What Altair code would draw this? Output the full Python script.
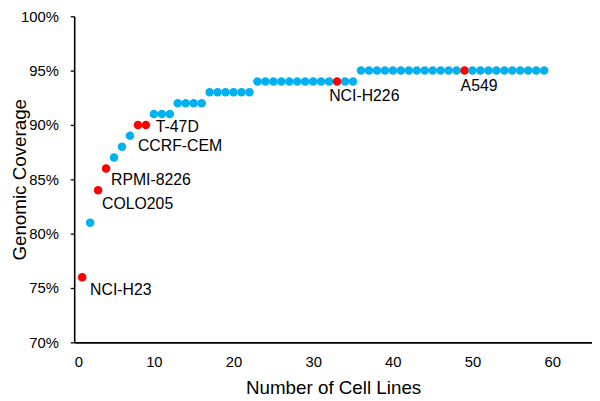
import altair as alt
import pandas as pd

# ---- data ----
cell_index = list(range(1, 60))
coverage = [76, 81, 84, 86, 87, 88, 89, 90, 90,
            91, 91, 91,
            92, 92, 92, 92,
            93, 93, 93, 93, 93, 93,
            94, 94, 94, 94, 94, 94, 94, 94, 94, 94, 94, 94, 94,
            95, 95, 95, 95, 95, 95, 95, 95, 95, 95, 95, 95,
            95, 95, 95, 95, 95, 95, 95, 95, 95, 95, 95, 95]

label_names = ["NCI-H23", "COLO205", "RPMI-8226", "CCRF-CEM", "T-47D", "NCI-H226", "A549"]
label_index = [1, 3, 4, 8, 9, 33, 49]

x_ticks = [0, 10, 20, 30, 40, 50, 60]
y_ticks = [70, 75, 80, 85, 90, 95, 100]

# label offsets (style)
label_offsets = {
    "NCI-H23": (8, 13),
    "COLO205": (4, 14),
    "RPMI-8226": (5, 12),
    "CCRF-CEM": (0, 21),
    "T-47D": (10, 2),
    "NCI-H226": (-8, 15),
    "A549": (-4, 16),
}

FONT = "Liberation Sans"

df = pd.DataFrame({"n": cell_index, "cov": coverage})
df["group"] = ["named" if i in label_index else "other" for i in cell_index]

lbl = pd.DataFrame({"name": label_names, "n": label_index})
lbl = lbl.merge(df[["n", "cov"]], on="n")

x_enc = alt.X("n:Q",
              scale=alt.Scale(domain=[0, 65], nice=False, zero=True),
              axis=alt.Axis(values=x_ticks, title="Number of Cell Lines", grid=False,
                            ticks=False, labelPadding=12, titlePadding=10,
                            labelFontSize=15, titleFontSize=19, titleFontWeight="normal",
                            domainColor="#000", domainWidth=1.6,
                            labelColor="#000", titleColor="#000",
                            labelFont=FONT, titleFont=FONT))
y_enc = alt.Y("cov:Q",
              scale=alt.Scale(domain=[70, 100], nice=False, zero=False),
              axis=alt.Axis(values=y_ticks, labelExpr="datum.value + '%'",
                            title="Genomic Coverage", grid=False,
                            ticks=True, tickSize=4, tickColor="#000", tickWidth=1.3,
                            labelPadding=12, titlePadding=-9,
                            labelFontSize=15, titleFontSize=19, titleFontWeight="normal",
                            domainColor="#000", domainWidth=1.6,
                            labelColor="#000", titleColor="#000",
                            labelFont=FONT, titleFont=FONT))

points = alt.Chart(df).mark_circle(size=74, opacity=1).encode(
    x=x_enc,
    y=y_enc,
    color=alt.Color("group:N",
                    scale=alt.Scale(domain=["other", "named"], range=["#00B0F0", "#FF0000"]),
                    legend=None),
)

layers = [points]
for name in label_names:
    dx, dy = label_offsets[name]
    layers.append(
        alt.Chart(lbl[lbl["name"] == name]).mark_text(
            align="left", baseline="middle", dx=dx, dy=dy,
            fontSize=16, font=FONT, color="#000"
        ).encode(x="n:Q", y="cov:Q", text="name:N")
    )

chart = alt.layer(*layers).properties(
    width=524, height=330,
    autosize=alt.AutoSizeParams(type="none"),
    padding={"left": 67, "top": 6, "right": 0, "bottom": 57},
).configure_view(stroke=None)

chart.save("out.html", embed_options={"renderer": "svg", "actions": False})
